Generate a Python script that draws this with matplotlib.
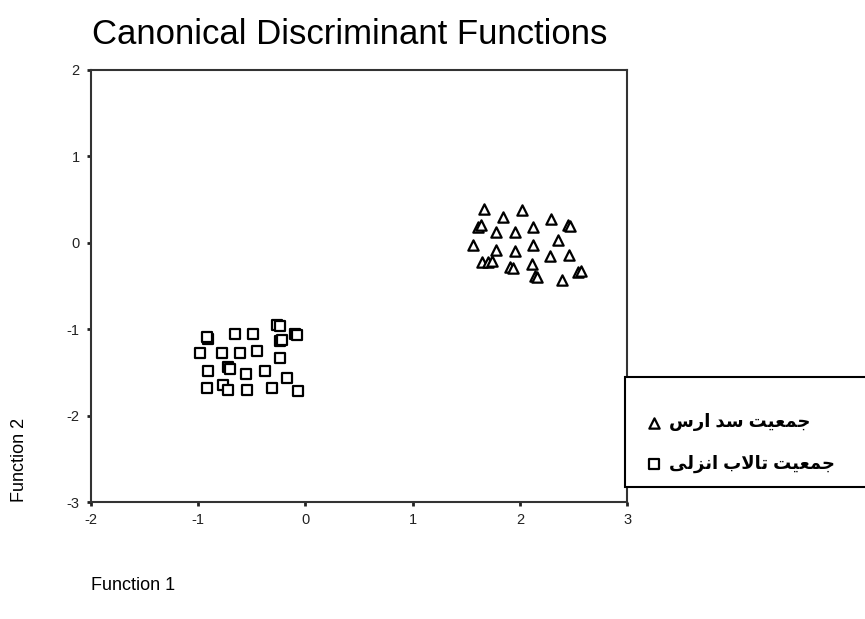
"""Canonical discriminant functions scatter for two populations"""

import matplotlib
matplotlib.use("Agg")
import matplotlib.pyplot as plt
from matplotlib.patches import Rectangle

plt.rcParams["font.family"] = ["Liberation Sans", "DejaVu Sans"]
plt.rcParams["axes.unicode_minus"] = False

# Aras dam population (triangles) - function 1 / function 2 scores
aras_f1 = [1.67, 1.84, 2.02, 2.29, 1.61, 1.64, 2.45, 2.47, 1.78, 1.95, 2.12,
           2.36, 1.56, 1.78, 1.95, 2.12, 2.28, 2.46, 1.65, 1.70, 1.74, 1.91,
           1.94, 2.11, 2.14, 2.16, 2.39, 2.54, 2.57]
aras_f2 = [0.39, 0.30, 0.38, 0.28, 0.18, 0.20, 0.21, 0.19, 0.13, 0.13, 0.18,
           0.03, -0.03, -0.08, -0.09, -0.02, -0.15, -0.14, -0.22, -0.22, -0.21,
           -0.28, -0.29, -0.24, -0.39, -0.40, -0.43, -0.34, -0.33]

# Anzali wetland population (squares)
anzali_f1 = [-0.91, -0.92, -0.66, -0.49, -0.26, -0.24, -0.24, -0.22, -0.10,
             -0.08, -0.98, -0.78, -0.61, -0.45, -0.24, -0.91, -0.72, -0.70,
             -0.55, -0.38, -0.17, -0.92, -0.77, -0.72, -0.54, -0.31, -0.07]
anzali_f2 = [-1.11, -1.09, -1.06, -1.06, -0.95, -0.96, -1.14, -1.12, -1.06,
             -1.07, -1.28, -1.28, -1.28, -1.25, -1.33, -1.48, -1.44, -1.46,
             -1.52, -1.48, -1.57, -1.68, -1.65, -1.70, -1.70, -1.68, -1.71]

# Persian labels, written in shaped presentation forms (visual order)
label_aras = "\uFEB1\uFEAD\uFE8D \uFEAA\uFEB3 \uFE96\uFEF4\uFECC\uFEE4\uFE9F"
label_anzali = ("\uFEF0\uFEDF\uFEB0\uFEE7\uFE8D \uFE8F\uFEFB\uFE8E\uFE97 "
                "\uFE96\uFEF4\uFECC\uFEE4\uFE9F")

fig = plt.figure(figsize=(8.65, 6.19), dpi=100)
ax = fig.add_axes([0.105, 0.189, 0.62, 0.698])

tri = ax.scatter(aras_f1, aras_f2, marker="^", s=55, facecolors="white",
                 edgecolors="black", linewidths=1.6, label=label_aras)
sq = ax.scatter(anzali_f1, anzali_f2, marker="s", s=60, facecolors="white",
                edgecolors="black", linewidths=1.6, label=label_anzali)

ax.set_xlim(-2, 3)
ax.set_ylim(-3, 2)
ax.set_xticks([-2, -1, 0, 1, 2, 3])
ax.set_yticks([-3, -2, -1, 0, 1, 2])
ax.tick_params(direction="out", length=3, width=2, labelsize=10.5, pad=5,
               colors="#222222")
for side in ax.spines.values():
    side.set_linewidth(1.5)
    side.set_color("#333333")

ax.set_xlabel("Function 1", loc="left", fontsize=13, labelpad=36)
ax.set_ylabel("Function 2", loc="bottom", fontsize=13, labelpad=28)
fig.text(0.106, 0.945, "Canonical Discriminant Functions", fontsize=25,
         ha="left", va="center")

# legend box sticking out of the right edge
box = Rectangle((0.7225, 0.2132), 0.35, 0.1777, transform=fig.transFigure,
                facecolor="white", edgecolor="black", linewidth=1.5,
                clip_on=False)
fig.add_artist(box)
leg = fig.legend(handles=[tri, sq], labels=[label_aras, label_anzali],
                 loc="center left", bbox_to_anchor=(0.728, 0.284),
                 frameon=False, handlelength=0.9, handletextpad=0.4,
                 labelspacing=1.3,
                 prop={"family": ["Liberation Sans", "DejaVu Sans"],
                       "weight": "bold", "size": 13})

fig.savefig("out.png", dpi=100)
